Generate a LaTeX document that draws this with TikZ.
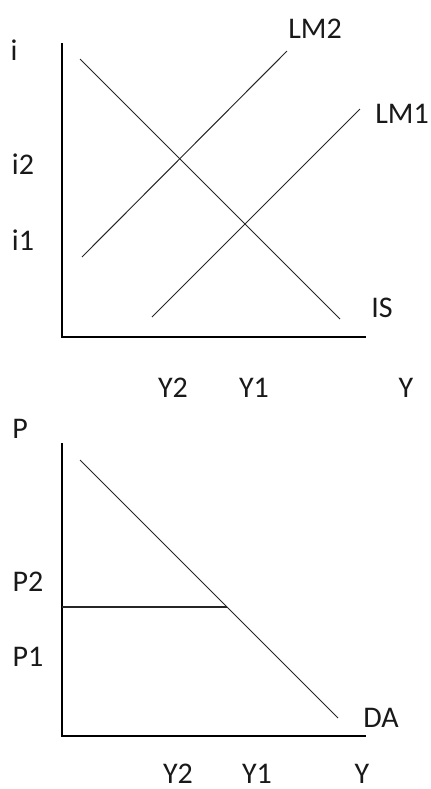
\documentclass[tikz,border=0pt]{standalone}
\usepackage{fontspec}
\setmainfont{Carlito}
\usetikzlibrary{positioning}
\tikzset{
  axis/.style  ={line width=1pt, draw=black},
  curve/.style ={line width=0.5pt, draw=black!85},
  lbl/.style   ={font=\fontsize{15}{18}\selectfont, inner sep=0pt, text=black!90},
}
\begin{document}
\begin{tikzpicture}[x=0.5pt, y=-0.5pt]
\useasboundingbox (0,0) rectangle (430,789);

% IS-LM panel
\coordinate (iTop) at (62,43);
\coordinate (iO) at (62,337);
\coordinate (iEnd) at (366,337);
\draw[axis] (iTop) -- (iO) -- (iEnd);
\coordinate (isA) at (80,59);   \coordinate (isB) at (340,319);
\coordinate (lmtA) at (82,257); \coordinate (lmtB) at (287,51);
\coordinate (lmoA) at (152,317); \coordinate (lmoB) at (360,109);
\foreach \a/\b in {isA/isB,lmtA/lmtB,lmoA/lmoB} \draw[curve] (\a) -- (\b);

\node[lbl] (li)   at (14,50)   {i};
\node[lbl] (lit)  at (23,164)  {i2};
\node[lbl] (lio)  at (23,240)  {i1};
\node[lbl] (llmt) at (315,29)  {LM2};
\node[lbl] (llmo) at (402,114) {LM1};
\node[lbl] (lis)  at (382,308) {IS};
\node[lbl] (lyt)  at (173,388) {Y2};
\node[lbl] (lyo)  at (254,388) {Y1};
\node[lbl] (ly)   at (406,388) {Y};

% DA panel
\coordinate (pTop) at (62,443);
\coordinate (pO) at (62,736);
\coordinate (pEnd) at (366,736);
\draw[axis] (pTop) -- (pO) -- (pEnd);
\coordinate (daA) at (80,460); \coordinate (daB) at (338,718);
\draw[curve] (daA) -- (daB);
\coordinate (ptAxis) at (62,607); \coordinate (ptDA) at (227,607);
\draw[curve, line width=0.8pt] (ptAxis) -- (ptDA);

\node[lbl] (lp)   at (20,429)  {P};
\node[lbl] (lpt)  at (28,582)  {P2};
\node[lbl] (lpo)  at (28,657)  {P1};
\node[lbl] (lda)  at (381,718) {DA};
\node[lbl] (lyt2) at (178,774) {Y2};
\node[lbl] (lyo2) at (257,774) {Y1};
\node[lbl] (ly2)  at (362,774) {Y};
\end{tikzpicture}
\end{document}
